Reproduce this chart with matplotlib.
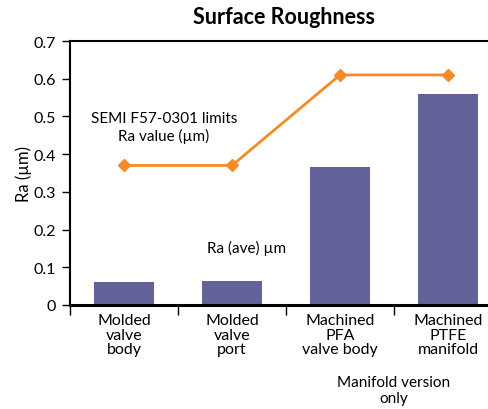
import matplotlib
matplotlib.use("Agg")
import matplotlib.pyplot as plt

# Daten
categories = ["Molded\nvalve\nbody", "Molded\nvalve\nport",
              "Machined\nPFA\nvalve body", "Machined\nPTFE\nmanifold"]
ra_ave = [0.061, 0.063, 0.365, 0.56]
semi_limit = [0.37, 0.37, 0.61, 0.61]
y_ticks = [0, 0.1, 0.2, 0.3, 0.4, 0.5, 0.6, 0.7]

plt.rcParams["font.family"] = ["Lato", "DejaVu Sans"]

W, H = 489, 410
fig = plt.figure(figsize=(W / 100, H / 100), dpi=100)
ax = fig.add_axes([70 / W, (H - 306) / H, 432 / W, 264 / H])

x = list(range(len(categories)))
ax.bar(x, ra_ave, width=0.555, color="#636299", zorder=2)
ax.plot(x, semi_limit, color="#F28C28", lw=2, marker="D", ms=6, zorder=3)

ax.set_xlim(-0.5, 3.5)
ax.set_ylim(0, 0.7)
ax.set_yticks(y_ticks)
ax.set_yticklabels(["0", "0.1", "0.2", "0.3", "0.4", "0.5", "0.6", "0.7"])
ax.tick_params(axis="y", direction="out", length=6, width=1, labelsize=11.5,
               pad=4)

ax.set_xticks(x)
ax.set_xticklabels(categories, fontsize=11.5, linespacing=1.05)
ax.tick_params(axis="x", which="major", length=0, pad=6)
ax.set_xticks([-0.5, 0.5, 1.5, 2.5], minor=True)
ax.tick_params(axis="x", which="minor", direction="out", length=7, width=1)

for side in ["left", "top"]:
    ax.spines[side].set_linewidth(1.5)
ax.spines["bottom"].set_linewidth(2.2)
ax.spines["right"].set_visible(False)

ax.set_ylabel("Ra (µm)", fontsize=12, labelpad=1)
fig.text(284 / W, 1 - 18 / H, "Surface Roughness", ha="center", va="center",
         fontsize=15.5, fontweight="bold")

fig.text(164 / W, 1 - 128 / H, "SEMI F57-0301 limits\nRa value (µm)",
         ha="center", va="center", fontsize=11, linespacing=1.3)
fig.text(247 / W, 1 - 248 / H, "Ra (ave) µm", ha="center", va="center",
         fontsize=11)
fig.text(394 / W, 1 - 391 / H, "Manifold version\nonly", ha="center",
         va="center", fontsize=11, linespacing=1.2)

fig.savefig("out.png", dpi=100)
